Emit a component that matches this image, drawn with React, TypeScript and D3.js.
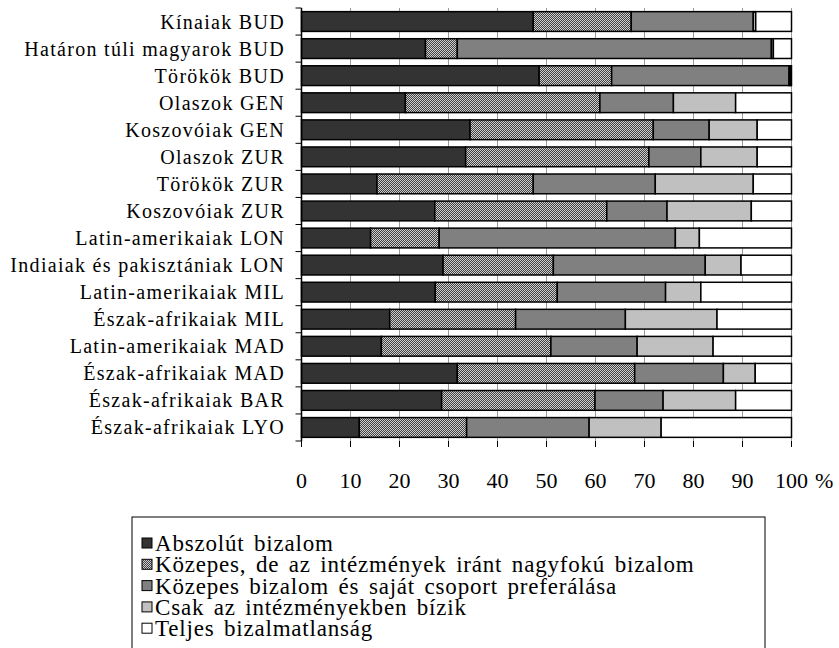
import * as d3 from "d3"

const categories = [
  "Kínaiak BUD",
  "Határon túli magyarok BUD",
  "Törökök BUD",
  "Olaszok GEN",
  "Koszovóiak GEN",
  "Olaszok ZUR",
  "Törökök ZUR",
  "Koszovóiak ZUR",
  "Latin-amerikaiak LON",
  "Indiaiak és pakisztániak LON",
  "Latin-amerikaiak MIL",
  "Észak-afrikaiak MIL",
  "Latin-amerikaiak MAD",
  "Észak-afrikaiak MAD",
  "Észak-afrikaiak BAR",
  "Észak-afrikaiak LYO",
]

const absolut = [47.3, 25.3, 48.5, 21.2, 34.4, 33.5, 15.4, 27.2, 14.1, 28.9, 27.3, 18.0, 16.3, 31.8, 28.6, 11.8]
const kozepesIntezmeny = [20.0, 6.5, 14.8, 39.7, 37.4, 37.4, 31.9, 35.1, 14.0, 22.5, 24.9, 25.7, 34.6, 36.2, 31.3, 21.9]
const kozepesCsoport = [24.9, 64.1, 36.2, 15.0, 11.4, 10.6, 24.9, 12.3, 48.2, 31.0, 22.1, 22.4, 17.6, 18.1, 13.9, 25.0]
const csakIntezmeny = [0.5, 0.4, 0.3, 12.7, 9.8, 11.5, 20.0, 17.2, 4.9, 7.3, 7.2, 18.7, 15.5, 6.5, 14.8, 14.7]
const bizalmatlan = [7.3, 3.7, 0.2, 11.4, 7.0, 7.0, 7.8, 8.2, 18.8, 10.3, 18.5, 15.2, 16.0, 7.4, 11.4, 26.6]

const seriesNames = [
  "Abszolút bizalom",
  "Közepes, de az intézmények iránt nagyfokú bizalom",
  "Közepes bizalom és saját csoport preferálása",
  "Csak az intézményekben bízik",
  "Teljes bizalmatlanság",
]
const xTicks = [0, 10, 20, 30, 40, 50, 60, 70, 80, 90, 100]

const fills = ["#333333", "url(#checker)", "#808080", "#c0c0c0", "#ffffff"]
const font = '"Liberation Serif", "Times New Roman", Times, serif'

export default function App() {
  const width = 839
  const height = 648
  const plot = { left: 301.5, right: 791.5, top: 8, bottom: 441 }

  const keys = ["s0", "s1", "s2", "s3", "s4"]
  const rows = categories.map((c, i) => ({
    cat: c,
    s0: absolut[i],
    s1: kozepesIntezmeny[i],
    s2: kozepesCsoport[i],
    s3: csakIntezmeny[i],
    s4: bizalmatlan[i],
  }))
  const stacked = d3.stack<any>().keys(keys)(rows)

  const x = d3.scaleLinear().domain([0, 100]).range([plot.left, plot.right])
  const y = d3
    .scaleBand()
    .domain(categories)
    .range([plot.top, plot.bottom])
    .paddingInner(0.27)
    .paddingOuter(0.135)
  const step = y.step()
  const boundaries = d3.range(categories.length + 1).map((i) => plot.top + i * step)

  // legend box runs off the bottom edge like in the original
  const legend = { x: 132, y: 517, w: 633, rowY: 543, pitch: 21.3 }

  return (
    <svg
      width={width}
      height={height}
      style={{ position: "absolute", left: 0, top: 0, background: "#fff", fontFamily: font }}
    >
      <defs>
        <pattern id="checker" width="2" height="2" patternUnits="userSpaceOnUse">
          <rect width="2" height="2" fill="#d0d0d0" />
          <rect x="1" y="0" width="1" height="1" fill="#404040" />
          <rect x="0" y="1" width="1" height="1" fill="#404040" />
        </pattern>
      </defs>

      {/* vertical gridlines */}
      {xTicks.slice(1).map((t) => (
        <line key={t} x1={x(t)} x2={x(t)} y1={plot.top} y2={plot.bottom} stroke="#9a9a9a" strokeWidth={1} />
      ))}

      {/* bars */}
      {stacked.map((layer, li) => (
        <g key={layer.key} fill={fills[li]} stroke="#000" strokeWidth={1.5}>
          {layer.map((d, i) => (
            <rect
              key={i}
              x={x(d[0])}
              y={y(categories[i])}
              width={Math.max(0, x(d[1]) - x(d[0]))}
              height={y.bandwidth()}
            />
          ))}
        </g>
      ))}

      {/* left axis */}
      <line x1={plot.left} x2={plot.left} y1={plot.top} y2={plot.bottom} stroke="#000" strokeWidth={1.5} />
      {boundaries.map((b, i) => (
        <line key={i} x1={plot.left - 6} x2={plot.left} y1={b} y2={b} stroke="#000" strokeWidth={1} />
      ))}
      {categories.map((c) => (
        <text
          key={c}
          x={285}
          y={(y(c) ?? 0) + y.bandwidth() / 2}
          dy="0.35em"
          textAnchor="end"
          fontSize={20}
          letterSpacing={1.3}
        >
          {c}
        </text>
      ))}

      {/* bottom axis */}
      {xTicks.map((t) => (
        <g key={t}>
          <line x1={x(t)} x2={x(t)} y1={plot.bottom} y2={plot.bottom + 6} stroke="#000" strokeWidth={1} />
          <text x={x(t)} y={488} textAnchor="middle" fontSize={22}>
            {t}
          </text>
        </g>
      ))}
      <text x={815} y={488} fontSize={22}>
        %
      </text>

      {/* legend */}
      <rect
        x={legend.x}
        y={legend.y}
        width={legend.w}
        height={height - legend.y + 5}
        fill="none"
        stroke="#000"
        strokeWidth={1}
      />
      {seriesNames.map((name, i) => {
        const cy = legend.rowY + i * legend.pitch
        return (
          <g key={name}>
            <rect x={142} y={cy - 5} width={10} height={10} fill={fills[i]} stroke="#000" strokeWidth={1} />
            <text x={155} y={cy} dy="0.35em" fontSize={23} letterSpacing={0.8} wordSpacing={3}>
              {name}
            </text>
          </g>
        )
      })}
    </svg>
  )
}
